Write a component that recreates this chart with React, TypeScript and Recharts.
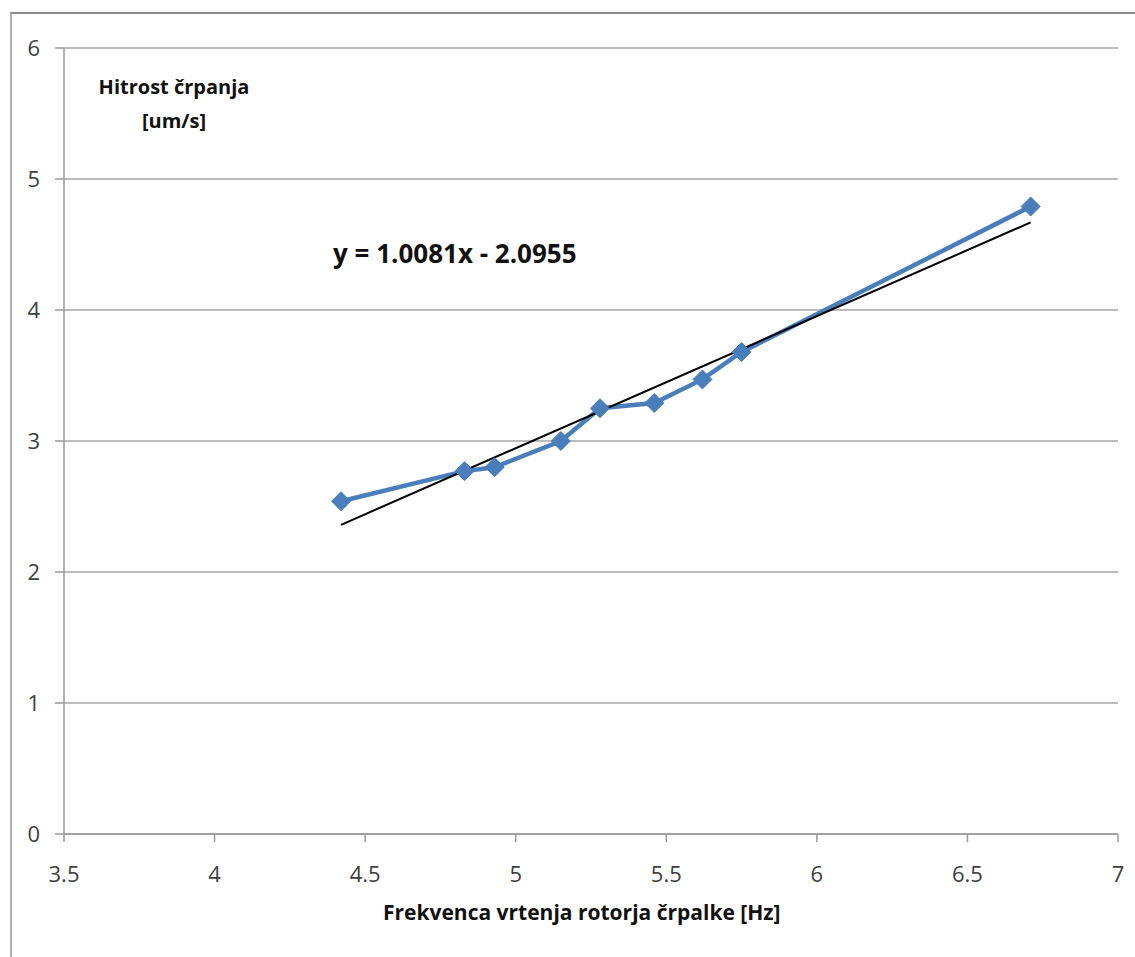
import { ComposedChart, Line, XAxis, YAxis, CartesianGrid } from "recharts";

// measured points: rotor frequency [Hz] vs pumping speed [um/s]
const freq = [4.42, 4.83, 4.93, 5.15, 5.28, 5.46, 5.62, 5.75, 6.71];
const speed = [2.54, 2.77, 2.8, 3.0, 3.25, 3.29, 3.47, 3.68, 4.79];

const xTicks = [3.5, 4, 4.5, 5, 5.5, 6, 6.5, 7];
const yTicks = [0, 1, 2, 3, 4, 5, 6];

// linear trend shown on the chart
const slope = 1.0081;
const intercept = -2.0955;

const points = freq.map((x, i) => ({ x, y: speed[i] }));
const trendX = [freq[0], freq[freq.length - 1]];
const trend = trendX.map((x) => ({ x, y: slope * x + intercept }));

const FONT = "'Open Sans', 'Noto Sans', sans-serif";
const BLUE = "#4a7ebb";

const Diamond = ({ cx, cy }: any) => {
  if (cx == null || cy == null) return null;
  const r = 9.5;
  return (
    <path
      d={`M${cx},${cy - r} L${cx + r},${cy} L${cx},${cy + r} L${cx - r},${cy} Z`}
      fill={BLUE}
      stroke={BLUE}
    />
  );
};

export default function App() {
  return (
    <div
      style={{
        position: "absolute",
        left: 0,
        top: 0,
        width: 1135,
        height: 957,
        background: "#fff",
        fontFamily: FONT,
      }}
    >
      <div
        style={{
          position: "absolute",
          left: 10,
          top: 12,
          width: 1135,
          height: 957,
          borderTop: "2px solid #8c8c8c",
          borderLeft: "2px solid #b0b0b0",
        }}
      />
      <ComposedChart
        width={1135}
        height={957}
        margin={{ top: 48, right: 17, left: 0, bottom: 93 }}
        style={{ position: "absolute", left: 0, top: 0 }}
      >
        <CartesianGrid vertical={false} stroke="#a6a6a6" strokeWidth={1.5} />
        <XAxis
          dataKey="x"
          type="number"
          domain={[3.5, 7]}
          ticks={xTicks}
          allowDataOverflow
          height={30}
          tickSize={8}
          tickMargin={24}
          stroke="#999"
          strokeWidth={1.5}
          tick={{ fill: "#404040", fontSize: 22, fontFamily: FONT }}
        />
        <YAxis
          type="number"
          domain={[0, 6]}
          ticks={yTicks}
          width={64}
          tickSize={9}
          tickMargin={15}
          stroke="#999"
          strokeWidth={1.5}
          tick={{ fill: "#404040", fontSize: 22, fontFamily: FONT }}
        />
        <Line
          data={points}
          dataKey="y"
          stroke={BLUE}
          strokeWidth={4.5}
          dot={<Diamond />}
          activeDot={false}
          isAnimationActive={false}
        />
        <Line
          data={trend}
          dataKey="y"
          stroke="#000"
          strokeWidth={2}
          dot={false}
          activeDot={false}
          isAnimationActive={false}
        />
      </ComposedChart>
      <div
        style={{
          position: "absolute",
          left: 89,
          top: 70,
          width: 170,
          textAlign: "center",
          fontWeight: 700,
          fontSize: 20,
          lineHeight: "34px",
          color: "#111",
        }}
      >
        Hitrost črpanja
        <br />
        [um/s]
      </div>
      <div
        style={{
          position: "absolute",
          left: 333,
          top: 235,
          fontWeight: 700,
          fontSize: 26,
          color: "#111",
          whiteSpace: "nowrap",
        }}
      >
        y = 1.0081x - 2.0955
      </div>
      <div
        style={{
          position: "absolute",
          left: 383,
          top: 898,
          fontWeight: 700,
          fontSize: 21,
          color: "#111",
          whiteSpace: "nowrap",
        }}
      >
        Frekvenca vrtenja rotorja črpalke [Hz]
      </div>
    </div>
  );
}
